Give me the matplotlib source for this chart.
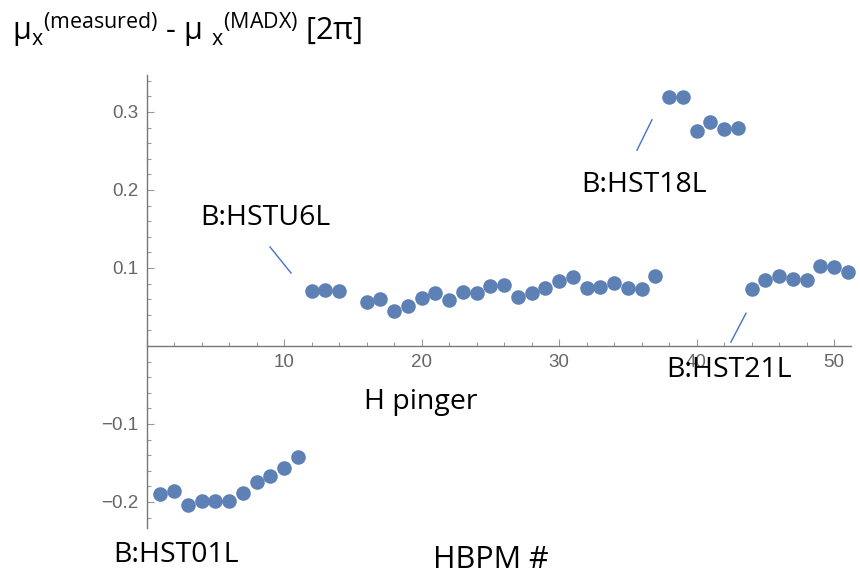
import numpy as np
import matplotlib
matplotlib.use('Agg')
import matplotlib.pyplot as plt
from matplotlib.ticker import MultipleLocator

# HBPM index and measured-minus-model phase advance [2 pi]
bpm = [1, 2, 3, 4, 5, 6, 7, 8, 9, 10, 11,
       12, 13, 14, 16, 17, 18, 19, 20, 21, 22, 23, 24, 25, 26,
       27, 28, 29, 30, 31, 32, 33, 34, 35, 36, 37,
       38, 39, 40, 41, 42, 43,
       44, 45, 46, 47, 48, 49, 50, 51]
dmu = [-0.190, -0.186, -0.204, -0.199, -0.199, -0.199, -0.188, -0.174, -0.167, -0.156, -0.142,
       0.0705, 0.072, 0.0705, 0.057, 0.060, 0.045, 0.051, 0.061, 0.068, 0.059, 0.069, 0.068, 0.077, 0.078,
       0.063, 0.068, 0.074, 0.083, 0.088, 0.074, 0.076, 0.081, 0.074, 0.073, 0.090,
       0.319, 0.319, 0.276, 0.287, 0.278, 0.279,
       0.073, 0.085, 0.090, 0.086, 0.085, 0.103, 0.101, 0.095]

xticks = [10, 20, 30, 40, 50]
yticks = [-0.2, -0.1, 0.1, 0.2, 0.3]
ytick_labels = ['\u22120.2', '\u22120.1', '0.1', '0.2', '0.3']

W, H = 860, 579
fig = plt.figure(figsize=(W / 100, H / 100), dpi=100)
# axes placed in pixel space: x=0 at px 146.5, 13.75 px/unit; y=0 at px 346, 780 px/unit
xmin, xmax = 0, 51.2
ymin, ymax = -0.233, 0.347
left = 146.5 / W
right = (146.5 + xmax * 13.75) / W
top = 1 - (346 - ymax * 780) / H
bottom = 1 - (346 - ymin * 780) / H
ax = fig.add_axes([left, bottom, right - left, top - bottom])
ax.set_xlim(xmin, xmax)
ax.set_ylim(ymin, ymax)

ax.plot(bpm, dmu, 'o', color='#5E81B5', markersize=10.5, markeredgewidth=0, clip_on=False)

# Mathematica-like axes crossing at the origin
for s in ['top', 'right']:
    ax.spines[s].set_visible(False)
ax.spines['left'].set_position(('data', 0))
ax.spines['bottom'].set_position(('data', 0))
for s in ['left', 'bottom']:
    ax.spines[s].set_color('#777777')
    ax.spines[s].set_linewidth(1.0)

ax.set_xticks(xticks)
ax.set_yticks(yticks)
ax.set_yticklabels(ytick_labels)
ax.xaxis.set_minor_locator(MultipleLocator(2))
ax.yaxis.set_minor_locator(MultipleLocator(0.02))
ax.tick_params(which='major', direction='in', length=5, width=0.8, color='#999999',
               labelsize=13.5, labelcolor='#666666', pad=6)
ax.tick_params(which='minor', direction='in', length=3, width=0.8, color='#999999')
for lab in ax.get_xticklabels() + ax.get_yticklabels():
    lab.set_family('Liberation Sans')

# annotations
font = 'Open Sans'
ann_color = '#4472C4'
ax.text(8.62, 0.164, 'B:HSTU6L', fontsize=20.5, family=font, ha='center', va='center')
ax.plot([8.98, 10.51], [0.127, 0.0936], color=ann_color, lw=1)
ax.text(19.98, -0.0718, 'H pinger', fontsize=20.5, family=font, ha='center', va='center')
ax.text(36.2, 0.206, 'B:HST18L', fontsize=20.5, family=font, ha='center', va='center')
ax.plot([35.67, 36.76], [0.251, 0.290], color=ann_color, lw=1)
ax.text(42.37, -0.0308, 'B:HST21L', fontsize=20.5, family=font, ha='center', va='center')
ax.plot([42.5, 43.6], [0.005, 0.042], color=ann_color, lw=1)
ax.text(2.15, -0.268, 'B:HST01L', fontsize=20.5, family=font, ha='center', va='center', clip_on=False)

plt.rcParams['mathtext.fontset'] = 'custom'
plt.rcParams['mathtext.rm'] = 'Open Sans'
plt.rcParams['mathtext.it'] = 'Open Sans:italic'
fig.text(491 / W, 1 - 560 / H, 'HBPM #', fontsize=22, family=font, ha='center', va='center')
fig.text(12 / W, 1 - 40 / H,
         r'$\mathrm{\mu_x}{}^{\mathrm{(measured)}}$ - $\mathrm{\mu\ _x}{}^{\mathrm{(MADX)}}$ [2$\mathrm{\pi}$]',
         fontsize=22, family=font, ha='left', va='baseline')

fig.savefig('out.png', dpi=100)
